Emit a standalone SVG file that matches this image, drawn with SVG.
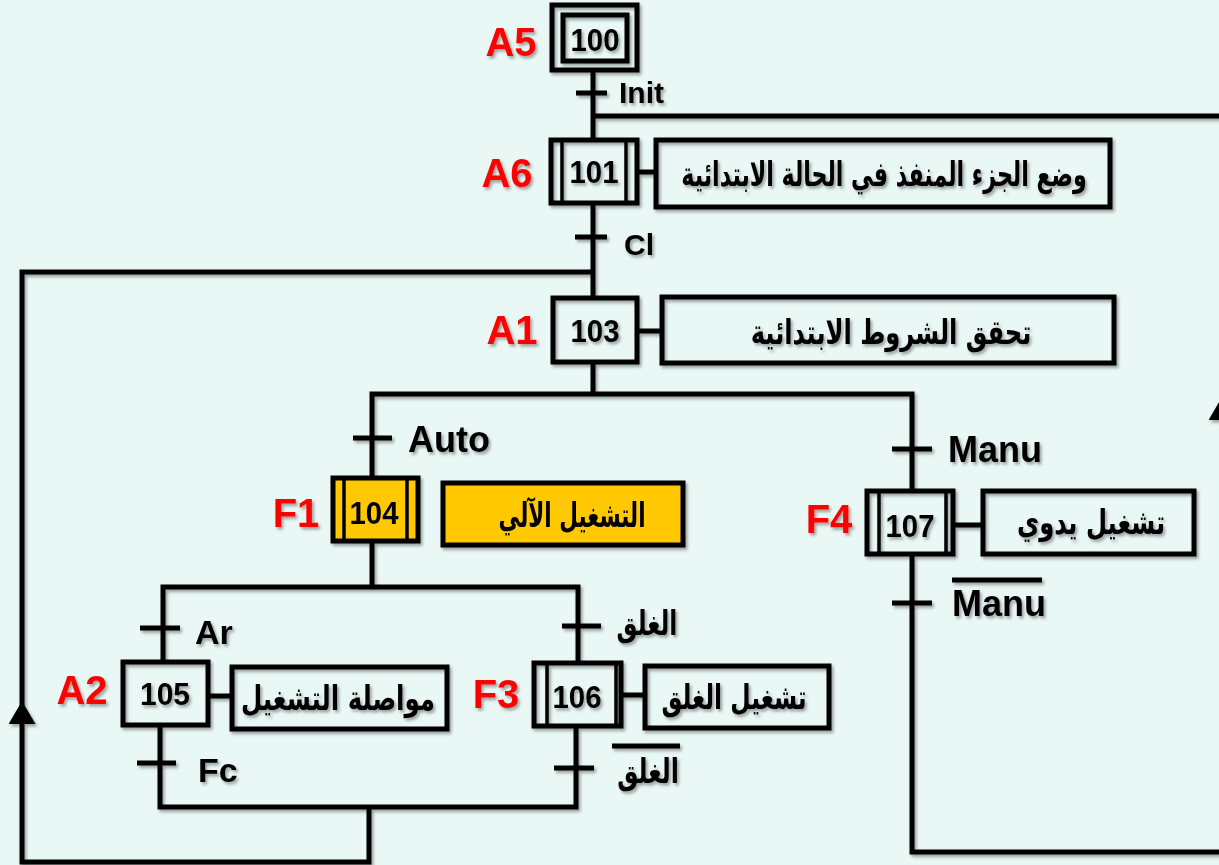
<svg xmlns="http://www.w3.org/2000/svg" width="1219" height="865" viewBox="0 0 1219 865">
<defs>
<style>
.ln{fill:none;stroke:#000;stroke-width:5;stroke-linejoin:miter}
.tk{fill:none;stroke:#000;stroke-width:5}
.bx{fill:none;stroke:#000;stroke-width:5}
.in{fill:none;stroke:#000;stroke-width:3.5}
.gold{fill:#FFC800}
.num{font-family:"Liberation Sans",Arial,sans-serif;font-weight:bold;font-size:31px;fill:#000;text-anchor:middle}
.red{font-family:"Liberation Sans",Arial,sans-serif;font-weight:bold;font-size:40px;fill:#FF0000;text-anchor:middle}
.lab{font-family:"Liberation Sans",Arial,sans-serif;font-weight:bold;fill:#000}
.ar{font-family:"DejaVu Sans","Noto Sans",sans-serif;font-weight:bold;font-size:34px;fill:#000;text-anchor:middle}
</style>
<filter id="sh" x="-2%" y="-2%" width="104%" height="104%">
<feDropShadow dx="2" dy="2.5" stdDeviation="1.5" flood-color="#000" flood-opacity="0.35"/>
</filter>
<marker id="arr" viewBox="0 0 23 27" refX="13" refY="13.5" markerWidth="23" markerHeight="27" markerUnits="userSpaceOnUse" orient="auto">
<path d="M0,0 L23,13.5 L0,27 Z" fill="#000"/>
</marker>
</defs>
<rect x="0" y="0" width="1219" height="865" fill="#EAF8F5"/>
<g filter="url(#sh)">
<g id="connectors">
<path class="ln" d="M593,70 V140"/>
<path class="tk" d="M576,93 H607"/>
<path class="ln" d="M593,203 V298"/>
<path class="tk" d="M575,237 H607"/>
<path class="ln" d="M593,362 V394"/>
<path class="ln" d="M372,478 V394 H912 V491"/>
<path class="tk" d="M353,438 H392"/>
<path class="tk" d="M892,449 H932"/>
<path class="ln" d="M372,541 V587"/>
<path class="ln" d="M163,662 V587 H578 V663"/>
<path class="tk" d="M140,628 H180"/>
<path class="tk" d="M562,626 H601"/>
<path class="ln" d="M160,725 V807 H576 V726"/>
<path class="tk" d="M137,763 H176"/>
<path class="tk" d="M554,768 H594"/>
<path class="ln" d="M369,807 V862 H22 V711" marker-end="url(#arr)"/>
<path class="ln" d="M22,711 V272 H593"/>
<path class="ln" d="M912,554 V852 H1222 V407" marker-end="url(#arr)"/>
<path class="ln" d="M1222,407 V116 H593"/>
<path class="tk" d="M892,603 H932"/>
<path class="tk" d="M637,172 H656"/>
<path class="tk" d="M637,331 H662"/>
<path class="tk" d="M208,696 H232"/>
<path class="tk" d="M621,695 H645"/>
<path class="tk" d="M953,525 H983"/>
</g>
<g id="transition-labels">
<text class="lab" x="619" y="103" font-size="30">Init</text>
<text class="lab" x="624" y="255" font-size="30">Cl</text>
<text class="lab" x="408" y="452" font-size="36">Auto</text>
<text class="lab" x="948" y="462" font-size="36">Manu</text>
<text class="lab" x="952" y="616" font-size="36">Manu</text>
<path class="tk" d="M952,580 H1042"/>
<text class="lab" x="195" y="644" font-size="34">Ar</text>
<text class="lab" x="198" y="782" font-size="34">Fc</text>
<text class="ar" transform="translate(647,635) scale(0.69,1)" x="0" y="0">الغلق</text>
<text class="ar" transform="translate(648,783) scale(0.70,1)" x="0" y="0">الغلق</text>
<path class="tk" d="M612,746 H680"/>
</g>
<g id="step100">
<rect class="bx" x="552" y="5" width="85" height="65"/>
<rect class="bx" x="563" y="15" width="64" height="46"/>
<text class="num" x="595" y="51" textLength="49" lengthAdjust="spacingAndGlyphs">100</text>
<text class="red" x="511" y="56">A5</text>
</g>
<g id="step101">
<rect class="bx" x="551" y="140" width="86" height="63"/>
<path class="in" d="M562,140 V203 M626,140 V203"/>
<text class="num" x="594" y="183" textLength="49" lengthAdjust="spacingAndGlyphs">101</text>
<text class="red" x="507" y="187">A6</text>
</g>
<g id="action101">
<rect class="bx" x="656" y="140" width="454" height="67"/>
<text class="ar" transform="translate(884,186) scale(0.651,1)" x="0" y="0">وضع الجزء المنفذ في الحالة الابتدائية</text>
</g>
<g id="step103">
<rect class="bx" x="553" y="298" width="84" height="64"/>
<text class="num" x="595" y="342" textLength="49" lengthAdjust="spacingAndGlyphs">103</text>
<text class="red" x="512" y="344">A1</text>
</g>
<g id="action103">
<rect class="bx" x="662" y="297" width="452" height="66"/>
<text class="ar" transform="translate(891,344) scale(0.711,1)" x="0" y="0">تحقق الشروط الابتدائية</text>
</g>
<g id="step104">
<rect class="bx gold" x="333" y="478" width="85" height="63"/>
<path class="in" d="M344,478 V541 M407,478 V541"/>
<text class="num" x="374" y="524" textLength="49" lengthAdjust="spacingAndGlyphs">104</text>
<text class="red" x="296" y="527">F1</text>
</g>
<g id="action104">
<rect class="bx gold" x="443" y="483" width="240" height="62"/>
<text class="ar" transform="translate(572,527) scale(0.634,1)" x="0" y="0">التشغيل الآلي</text>
</g>
<g id="step105">
<rect class="bx" x="123" y="662" width="85" height="63"/>
<text class="num" x="165" y="705" textLength="50" lengthAdjust="spacingAndGlyphs">105</text>
<text class="red" x="82" y="704">A2</text>
</g>
<g id="action105">
<rect class="bx" x="232" y="667" width="215" height="62"/>
<text class="ar" transform="translate(338,710) scale(0.72,1)" x="0" y="0">مواصلة التشغيل</text>
</g>
<g id="step106">
<rect class="bx" x="534" y="663" width="87" height="63"/>
<path class="in" d="M547,663 V726 M616,663 V726"/>
<text class="num" x="577" y="708" textLength="49" lengthAdjust="spacingAndGlyphs">106</text>
<text class="red" x="496" y="708">F3</text>
</g>
<g id="action106">
<rect class="bx" x="645" y="666" width="184" height="62"/>
<text class="ar" transform="translate(734,709) scale(0.689,1)" x="0" y="0">تشغيل الغلق</text>
</g>
<g id="step107">
<rect class="bx" x="867" y="491" width="86" height="63"/>
<path class="in" d="M879,491 V554 M946,491 V554"/>
<text class="num" x="910" y="537" textLength="49" lengthAdjust="spacingAndGlyphs">107</text>
<text class="red" x="829" y="533">F4</text>
</g>
<g id="action107">
<rect class="bx" x="983" y="491" width="211" height="63"/>
<text class="ar" transform="translate(1091,534) scale(0.714,1)" x="0" y="0">تشغيل يدوي</text>
</g>
</g>
</svg>
